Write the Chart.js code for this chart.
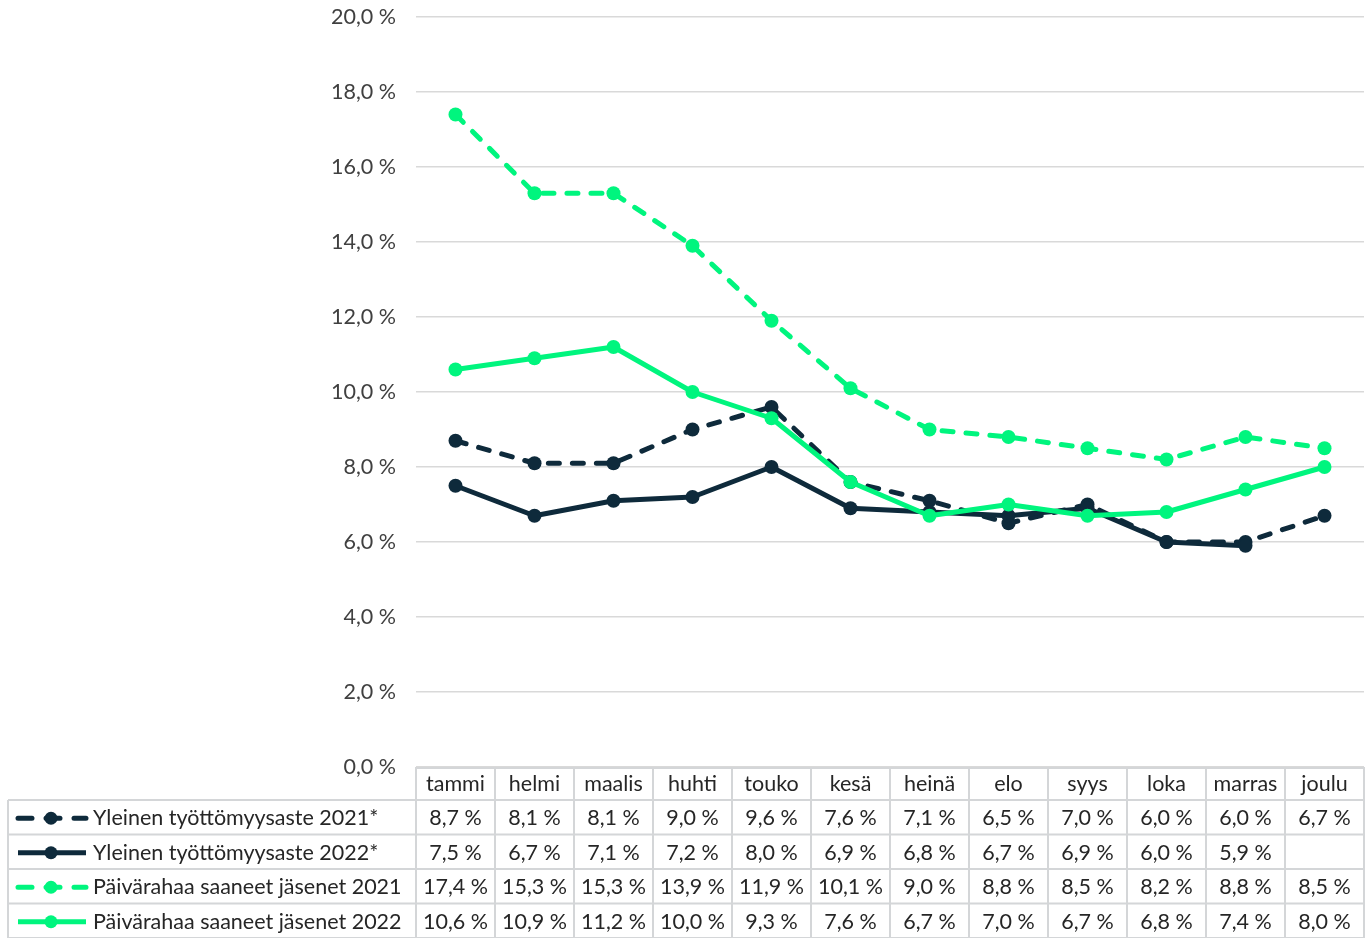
<!DOCTYPE html>
<html>
<head>
<meta charset="utf-8">
<script src="https://cdn.jsdelivr.net/npm/chart.js@4"></script>
<style>
  html, body { margin: 0; padding: 0; background: #fff; }
  #wrap { width: 1372px; height: 938px; }
</style>
</head>
<body>
<div id="wrap"><canvas id="tyottomyysChart" width="1372" height="938"></canvas></div>
<script>
// Kuukaudet ja sarjat
const months = ['tammi', 'helmi', 'maalis', 'huhti', 'touko', 'kesä', 'heinä', 'elo', 'syys', 'loka', 'marras', 'joulu'];
const yleinen2021 = [8.7, 8.1, 8.1, 9.0, 9.6, 7.6, 7.1, 6.5, 7.0, 6.0, 6.0, 6.7];
const yleinen2022 = [7.5, 6.7, 7.1, 7.2, 8.0, 6.9, 6.8, 6.7, 6.9, 6.0, 5.9, null];
const paivaraha2021 = [17.4, 15.3, 15.3, 13.9, 11.9, 10.1, 9.0, 8.8, 8.5, 8.2, 8.8, 8.5];
const paivaraha2022 = [10.6, 10.9, 11.2, 10.0, 9.3, 7.6, 6.7, 7.0, 6.7, 6.8, 7.4, 8.0];
const seriesNames = ['Yleinen työttömyysaste 2021*', 'Yleinen työttömyysaste 2022*', 'Päivärahaa saaneet jäsenet 2021', 'Päivärahaa saaneet jäsenet 2022'];

const NAVY = '#0e2a3b';
const GREEN = '#00f57e';
const DASH = [11, 13];
const FONT = 'Lato, "Open Sans", sans-serif';
const FSIZE = 21.5;

function pct(v) {
  return v.toFixed(1).replace('.', ',') + ' %';
}

function line(label, data, color, dashed, order) {
  return {
    label: label,
    data: data,
    borderColor: color,
    backgroundColor: color,
    borderWidth: 5,
    borderDash: dashed ? DASH : [],
    borderCapStyle: dashed ? 'round' : 'butt',
    borderJoinStyle: 'round',
    pointRadius: 7,
    pointHoverRadius: 7,
    pointBorderWidth: 0,
    tension: 0,
    spanGaps: false,
    order: order
  };
}

const datasets = [
  line(seriesNames[0], yleinen2021, NAVY, true, 4),
  line(seriesNames[1], yleinen2022, NAVY, false, 3),
  line(seriesNames[2], paivaraha2021, GREEN, true, 2),
  line(seriesNames[3], paivaraha2022, GREEN, false, 1)
];

// Datataulukko kaavion alle
const dataTable = {
  id: 'dataTable',
  afterDraw(chart) {
    const ctx = chart.ctx;
    const x = chart.scales.x;
    const area = chart.chartArea;
    const cw = (area.right - area.left) / months.length;
    const top = area.bottom;
    const headH = 33;
    const rowH = 34.5;
    const tableLeft = 8;
    const rowsTop = top + headH;
    const bottom = rowsTop + rowH * 4;

    ctx.save();
    ctx.strokeStyle = '#d4d6d8';
    ctx.lineWidth = 2;
    ctx.setLineDash([]);
    ctx.beginPath();
    // otsikkorivin yläreuna
    ctx.moveTo(area.left, top + 1);
    ctx.lineTo(area.right, top + 1);
    // vaakaviivat
    for (let r = 0; r <= 4; r++) {
      const y = rowsTop + r * rowH;
      ctx.moveTo(tableLeft, y);
      ctx.lineTo(area.right, y);
    }
    // pystyviivat
    ctx.moveTo(tableLeft, rowsTop);
    ctx.lineTo(tableLeft, bottom);
    for (let i = 0; i <= months.length; i++) {
      const xx = area.left + i * cw;
      ctx.moveTo(xx, top);
      ctx.lineTo(xx, bottom);
    }
    ctx.stroke();

    ctx.fillStyle = '#262626';
    ctx.font = FSIZE + 'px ' + FONT;
    ctx.textAlign = 'center';
    ctx.textBaseline = 'middle';
    months.forEach((m, i) => {
      ctx.fillText(m, x.getPixelForValue(i), top + headH / 2 + 1);
    });

    chart.data.datasets.forEach((ds, r) => {
      const cy = rowsTop + r * rowH + rowH / 2 + 1;
      ds.data.forEach((v, i) => {
        if (v === null) return;
        ctx.fillText(pct(v), x.getPixelForValue(i), cy);
      });
      // selitteen symboli
      ctx.save();
      ctx.strokeStyle = ds.borderColor;
      ctx.fillStyle = ds.borderColor;
      ctx.lineWidth = 5;
      ctx.lineCap = ds.borderDash.length ? 'round' : 'butt';
      ctx.setLineDash(ds.borderDash.length ? [14, 14] : []);
      ctx.beginPath();
      ctx.moveTo(18, cy);
      ctx.lineTo(86, cy);
      ctx.stroke();
      ctx.beginPath();
      ctx.arc(51, cy, 6.5, 0, Math.PI * 2);
      ctx.fill();
      ctx.restore();
      ctx.textAlign = 'left';
      ctx.fillText(ds.label, 93, cy);
      ctx.textAlign = 'center';
    });
    ctx.restore();
  }
};

new Chart(document.getElementById('tyottomyysChart').getContext('2d'), {
  type: 'line',
  data: { labels: months, datasets: datasets },
  options: {
    responsive: false,
    animation: false,
    events: [],
    layout: { padding: { top: 17, right: 8, bottom: 171, left: 0 } },
    plugins: {
      legend: { display: false },
      tooltip: { enabled: false }
    },
    scales: {
      x: { display: false, offset: true },
      y: {
        min: 0,
        max: 20,
        afterFit(scale) {
          scale.width = 416;
          scale.paddingTop = 0;
          scale.paddingBottom = 0;
        },
        ticks: {
          stepSize: 2,
          padding: 20,
          color: '#404040',
          font: { size: FSIZE, family: FONT },
          callback: v => pct(v)
        },
        grid: { color: '#d9d9d9', lineWidth: 1.5, drawTicks: false },
        border: { display: false }
      }
    }
  },
  plugins: [dataTable]
});
</script>
</body>
</html>
